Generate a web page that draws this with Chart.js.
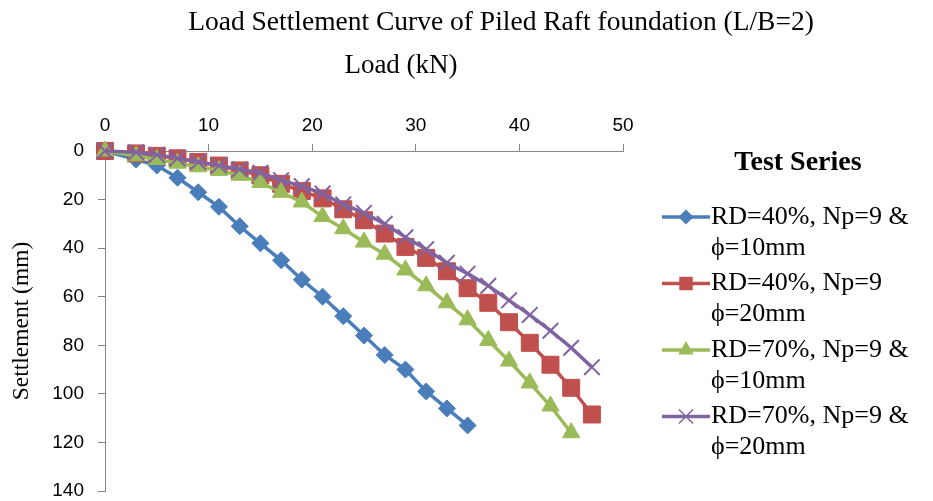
<!DOCTYPE html>
<html>
<head>
<meta charset="utf-8">
<script src="https://cdn.jsdelivr.net/npm/chart.js@4/dist/chart.umd.min.js"></script>
<style>
  html, body { margin: 0; padding: 0; background: #ffffff; }
  #wrap { width: 933px; height: 501px; }
</style>
</head>
<body>
<div id="wrap"><canvas id="c" width="933" height="501"></canvas></div>
<script>
// Load (kN) at each reading, per test series
const loadRD40D10 = [0, 3, 5, 7, 9, 11, 13, 15, 17, 19, 21, 23, 25, 27, 29, 31, 33, 35];
const loadRD40D20 = [0, 3, 5, 7, 9, 11, 13, 15, 17, 19, 21, 23, 25, 27, 29, 31, 33, 35, 37, 39, 41, 43, 45, 47];
const loadRD70D10 = [0, 3, 5, 7, 9, 11, 13, 15, 17, 19, 21, 23, 25, 27, 29, 31, 33, 35, 37, 39, 41, 43, 45];
const loadRD70D20 = [0, 3, 5, 7, 9, 11, 13, 15, 17, 19, 21, 23, 25, 27, 29, 31, 33, 35, 37, 39, 41, 43, 45, 47];

// Settlement (mm) at each reading
const settleRD40D10 = [0, 3.5, 6, 11, 17, 23, 31, 38, 45, 53, 60, 68, 76, 84, 90, 99, 106, 113];
const settleRD40D20 = [0, 1, 2, 3, 4.5, 6, 8, 10, 13.5, 16.5, 19.5, 24, 28.5, 34, 39.5, 44, 49.5, 56.5, 62.5, 70.5, 79, 88, 97.5, 108.5];
const settleRD70D10 = [0, 2, 3.5, 5, 6.5, 8, 10, 13, 17, 21, 27, 32, 37.5, 42.5, 49, 55.5, 62.5, 69.5, 78, 86.5, 95.5, 105, 116];
const settleRD70D20 = [0, 0.5, 1.5, 3, 4.5, 6, 7.5, 9, 12, 14.5, 17.5, 22, 25.5, 30, 35.5, 40.5, 46, 50.5, 55.5, 61.5, 67.5, 74, 81, 89];

const seriesLabels = [
  ['RD=40%, Np=9 &', '\u03d5=10mm'],
  ['RD=40%, Np=9', '\u03d5=20mm'],
  ['RD=70%, Np=9 &', '\u03d5=10mm'],
  ['RD=70%, Np=9 &', '\u03d5=20mm']
];

const chartTitle = 'Load Settlement Curve of Piled Raft foundation (L/B=2)';
const xTitle = 'Load (kN)';
const yTitle = 'Settlement (mm)';
const legendTitle = 'Test Series';

const BLUE = '#4a7ebb', RED = '#c0504d', GREEN = '#9bbb59', PURPLE = '#8064a2';
const SERIF = '"Liberation Serif", "Times New Roman", serif';

function pts(xs, ys) { return xs.map((x, i) => ({ x: x, y: ys[i] })); }

const styles = [
  { color: BLUE,   pointStyle: 'rectRot',  radius: 8.5, pbw: 1 },
  { color: RED,    pointStyle: 'rect',     radius: 12,  pbw: 1 },
  { color: GREEN,  pointStyle: 'triangle', radius: 10,  pbw: 1 },
  { color: PURPLE, pointStyle: 'crossRot', radius: 11,  pbw: 2 }
];
const series = [
  pts(loadRD40D10, settleRD40D10),
  pts(loadRD40D20, settleRD40D20),
  pts(loadRD70D10, settleRD70D10),
  pts(loadRD70D20, settleRD70D20)
];

const datasets = series.map((data, i) => ({
  label: seriesLabels[i].join(' '),
  data: data,
  borderColor: styles[i].color,
  backgroundColor: styles[i].color,
  borderWidth: 3.5,
  tension: 0,
  pointStyle: styles[i].pointStyle,
  pointRadius: styles[i].radius,
  pointHoverRadius: styles[i].radius,
  pointBackgroundColor: styles[i].color,
  pointBorderColor: styles[i].color,
  pointBorderWidth: styles[i].pbw,
  clip: false,
  order: 3 - i
}));

// Small legend marker: short line with the series marker in the middle
function drawMarker(ctx, style, x, y, r) {
  ctx.save();
  ctx.fillStyle = style.color;
  ctx.strokeStyle = style.color;
  ctx.beginPath();
  if (style.pointStyle === 'rectRot') {
    ctx.moveTo(x - r, y); ctx.lineTo(x, y - r); ctx.lineTo(x + r, y); ctx.lineTo(x, y + r); ctx.closePath(); ctx.fill();
  } else if (style.pointStyle === 'rect') {
    const s = r * Math.SQRT1_2;
    ctx.rect(x - s, y - s, 2 * s, 2 * s); ctx.fill();
  } else if (style.pointStyle === 'triangle') {
    for (let k = 0; k < 3; k++) {
      const a = k * 2 * Math.PI / 3;
      const px = x + Math.sin(a) * r, py = y - Math.cos(a) * r;
      if (k === 0) ctx.moveTo(px, py); else ctx.lineTo(px, py);
    }
    ctx.closePath(); ctx.fill();
  } else {
    const d = r * Math.SQRT1_2;
    ctx.lineWidth = 1.5;
    ctx.moveTo(x - d, y - d); ctx.lineTo(x + d, y + d);
    ctx.moveTo(x - d, y + d); ctx.lineTo(x + d, y - d);
    ctx.stroke();
  }
  ctx.restore();
}

const textPlugin = {
  id: 'textPlugin',
  afterDraw(chart) {
    const ctx = chart.ctx;
    const area = chart.chartArea;
    ctx.save();
    ctx.fillStyle = '#000';
    ctx.textBaseline = 'middle';
    ctx.textAlign = 'center';
    // chart title and load axis title
    ctx.font = '27.5px ' + SERIF;
    ctx.fillText(chartTitle, 501, 23);
    ctx.font = '27px ' + SERIF;
    ctx.fillText(xTitle, 401, 66);
    // settlement axis title
    ctx.save();
    ctx.translate(22, (area.top + area.bottom) / 2);
    ctx.rotate(-Math.PI / 2);
    ctx.font = '23.5px ' + SERIF;
    ctx.fillText(yTitle, 0, 0);
    ctx.restore();
    // legend
    ctx.font = 'bold 28px ' + SERIF;
    ctx.fillText(legendTitle, 798, 163);
    ctx.textAlign = 'left';
    ctx.font = '26px ' + SERIF;
    const lineX0 = 662, lineX1 = 710, textX = 711;
    seriesLabels.forEach((lines, i) => {
      const y0 = 217 + i * 66.5;
      const st = styles[i];
      ctx.save();
      ctx.strokeStyle = st.color;
      ctx.lineWidth = 3.5;
      ctx.beginPath();
      ctx.moveTo(lineX0, y0); ctx.lineTo(lineX1, y0);
      ctx.stroke();
      ctx.restore();
      drawMarker(ctx, st, (lineX0 + lineX1) / 2, y0, st.pointStyle === 'rect' ? 9.5 : st.radius - 1);
      lines.forEach((t, j) => ctx.fillText(t, textX, y0 + j * 31));
    });
    ctx.restore();
  }
};

const tickFont = { family: '"Liberation Sans", Arial, sans-serif', size: 19, lineHeight: 1 };

new Chart(document.getElementById('c'), {
  type: 'line',
  data: { datasets: datasets },
  options: {
    responsive: false,
    animation: false,
    devicePixelRatio: 1,
    layout: { autoPadding: false, padding: { left: 0, top: 0, right: 310, bottom: 10 } },
    plugins: {
      legend: { display: false },
      title: { display: false },
      tooltip: { enabled: false }
    },
    scales: {
      x: {
        type: 'linear',
        position: 'top',
        min: 0, max: 50,
        ticks: { stepSize: 10, color: '#000', font: tickFont, padding: 9, maxRotation: 0 },
        grid: { drawOnChartArea: false, drawTicks: true, tickLength: 7, color: '#868686', lineWidth: 1 },
        border: { color: '#868686', width: 1 },
        afterFit(scale) { scale.height = 151; }
      },
      y: {
        type: 'linear',
        reverse: true,
        min: 0, max: 140,
        ticks: { stepSize: 20, color: '#000', font: tickFont, padding: 14 },
        grid: { drawOnChartArea: false, drawTicks: true, tickLength: 7, color: '#868686', lineWidth: 1 },
        border: { color: '#868686', width: 1 },
        afterFit(scale) {
          scale.width = 105;
          scale.paddingTop = 0;
          scale.paddingBottom = 0;
        }
      }
    }
  },
  plugins: [textPlugin]
});
</script>
</body>
</html>
